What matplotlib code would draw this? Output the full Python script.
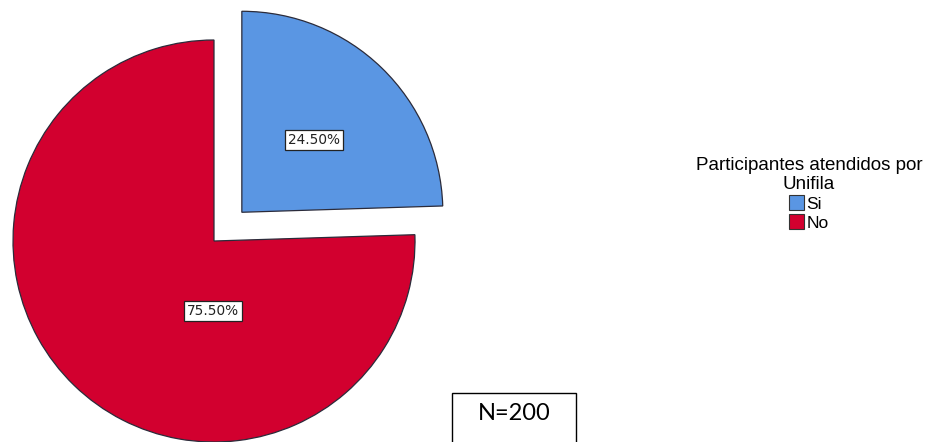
import matplotlib.pyplot as plt
from matplotlib.patches import Patch, Rectangle

# Participantes atendidos por Unifila (N=200)
labels = ['Si', 'No']
percent = [24.5, 75.5]
colors = ['#5a96e3', '#d2002f']

fig = plt.figure(figsize=(9.29, 4.42), dpi=100)
ax = fig.add_axes([0, 0, 1, 1])

# pie drawn in pixel-sized data units; explode is an absolute offset here
radius = 201
wedges, _ = ax.pie(percent, colors=colors, explode=[40, 0], startangle=90,
                   counterclock=False, center=(214, 201), radius=radius,
                   wedgeprops=dict(edgecolor='#2b2b3a', linewidth=0.9))
ax.set_aspect('equal', adjustable='datalim')
ax.set_xlim(0, 929)
ax.set_ylim(0, 442)
ax.axis('off')

# percentage labels in small boxes
box = dict(boxstyle='square,pad=0.2', facecolor='white', edgecolor='#222222', linewidth=0.9)
label_pos = [(314, 302), (213, 131)]
for (x, y), p in zip(label_pos, percent):
    ax.text(x, y, f'{p:.2f}%', ha='center', va='center', fontsize=9.8,
            family='DejaVu Sans', color='#222222', bbox=box)

# legend
handles = [Patch(facecolor=c, edgecolor='#333333', linewidth=0.8) for c in colors]
leg = ax.legend(handles, labels, title='Participantes atendidos por\nUnifila',
                loc='center', bbox_to_anchor=(809 / 929, 1 - 194 / 442),
                frameon=False, handlelength=0.85, handleheight=0.95, handletextpad=0.15,
                labelspacing=0.15, borderpad=0,
                prop={'family': 'Liberation Sans', 'size': 12.5})
title = leg.get_title()
title.set_family('Liberation Sans')
title.set_fontsize(13.5)
title.set_linespacing(1.1)
title.set_multialignment('center')

# sample size box
ax.add_patch(Rectangle((452, -10), 124, 59, facecolor='white', edgecolor='black', linewidth=1.0))
ax.text(514, 28, 'N=200', ha='center', va='center', fontsize=17, family='Lato')

fig.savefig('out.png', dpi=100)
